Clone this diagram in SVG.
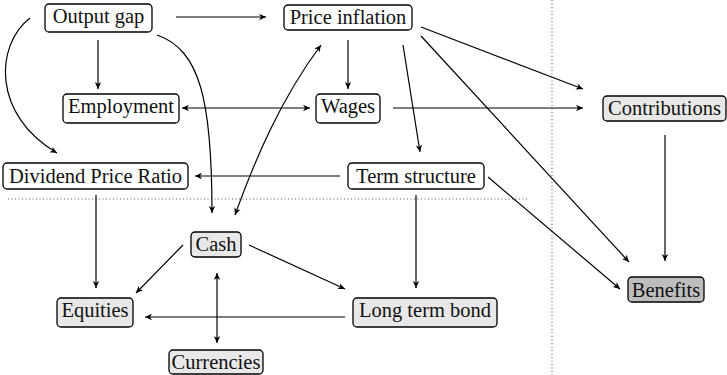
<svg xmlns="http://www.w3.org/2000/svg" width="727" height="375" viewBox="0 0 727 375">
<style>
.n rect{stroke:#000;stroke-width:1.3;fill:#fff}
.n.a rect{fill:#e8e8e8}
.n.b rect{fill:#bdbdbd}
.n text{font-family:'Liberation Serif','Times New Roman',serif;font-size:20.5px;fill:#111;text-anchor:middle}
#edges path{fill:none;stroke:#000;stroke-width:1.2;marker-end:url(#ah)}
#edges path.bi{marker-start:url(#ah)}
.dot{stroke:#555;stroke-width:1;stroke-dasharray:1 2.5;fill:none}
</style>
<defs>
<marker id="ah" viewBox="-8 -4 9 8" refX="0" refY="0" markerWidth="9" markerHeight="8" markerUnits="userSpaceOnUse" orient="auto-start-reverse">
<path d="M0,0 L-7,-3.2 L-5,0 L-7,3.2 Z" fill="#000"/>
</marker>
</defs>
<rect width="727" height="375" fill="#fff"/>
<line class="dot" x1="8" y1="199" x2="527" y2="199"/>
<line class="dot" x1="552" y1="0" x2="552" y2="375"/>
<g id="edges">
<path d="M176,17 L266,17"/>
<path d="M98,40 L98,89"/>
<path d="M30,18 C-5,45 -8,115 57,153"/>
<path d="M157,35 C200,50 212,100 212,213"/>
<path class="bi" d="M235,215 C255,160 280,100 321,45"/>
<path d="M348,40 L348,89"/>
<path d="M403,45 L420,152"/>
<path d="M421,27 L583,89"/>
<path d="M421,36 L629,262"/>
<path class="bi" d="M182,108 L310,108"/>
<path d="M393,108 L583,108"/>
<path d="M340,176 L195,176"/>
<path d="M416,195 L416,288"/>
<path d="M488,177 L620,289"/>
<path d="M665,135 L665,261"/>
<path d="M96,195 L96,288"/>
<path d="M183,245 L136,293"/>
<path d="M249,245 L345,289"/>
<path d="M345,317 L145,317"/>
<path class="bi" d="M217,273 L217,343"/>
</g>
<g id="output-gap" class="n"><rect x="45" y="4" width="107" height="28" rx="4"/><text x="98.5" y="23">Output gap</text></g>
<g id="price-inflation" class="n"><rect x="284" y="5" width="128" height="25" rx="4"/><text x="348" y="24">Price inflation</text></g>
<g id="employment" class="n"><rect x="63" y="94" width="116" height="29" rx="4"/><text x="121" y="113">Employment</text></g>
<g id="wages" class="n"><rect x="316" y="94" width="64" height="29" rx="4"/><text x="348" y="113">Wages</text></g>
<g id="contributions" class="n a"><rect x="603" y="96" width="123" height="25" rx="4"/><text x="664.5" y="115">Contributions</text></g>
<g id="dividend-price-ratio" class="n"><rect x="3" y="163" width="185" height="26" rx="4"/><text x="95.5" y="183">Dividend Price Ratio</text></g>
<g id="term-structure" class="n"><rect x="348" y="163" width="136" height="26" rx="4"/><text x="416" y="183">Term structure</text></g>
<g id="cash" class="n a"><rect x="191" y="232" width="50" height="25" rx="4"/><text x="216" y="251">Cash</text></g>
<g id="equities" class="n a"><rect x="57" y="298" width="76" height="29" rx="4"/><text x="95" y="317">Equities</text></g>
<g id="long-term-bond" class="n a"><rect x="353" y="298" width="144" height="29" rx="4"/><text x="425" y="317">Long term bond</text></g>
<g id="currencies" class="n a"><rect x="169" y="350" width="94" height="24" rx="4"/><text x="216" y="369">Currencies</text></g>
<g id="benefits" class="n b"><rect x="628" y="277" width="76" height="25" rx="4"/><text x="666" y="297">Benefits</text></g>
</svg>
